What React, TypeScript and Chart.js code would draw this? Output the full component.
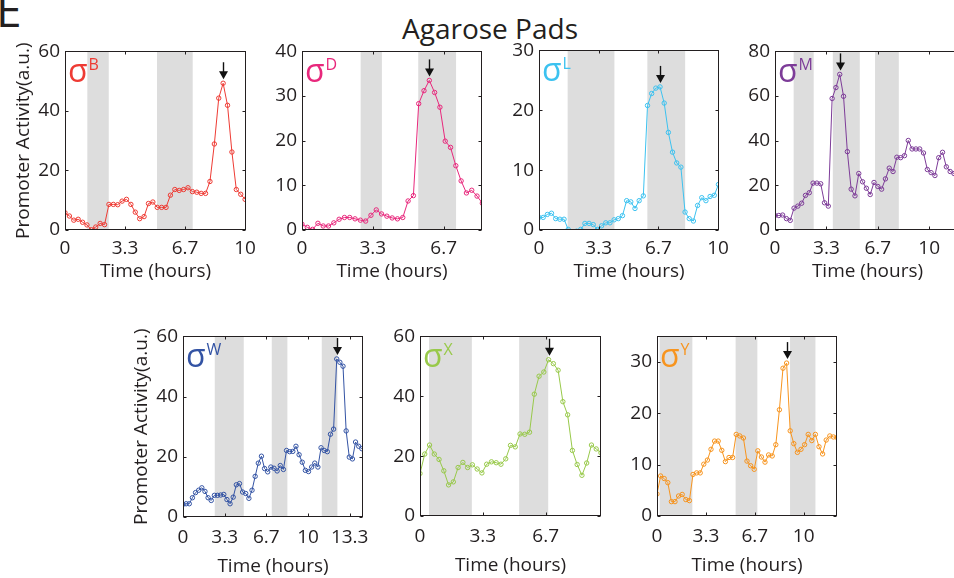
import React, { useEffect, useRef } from 'react';
import { Chart, registerables } from 'chart.js';

Chart.register(...registerables);

const FONT_FAMILY = '"Open Sans", "Noto Sans", sans-serif';
const TEXT_COLOR = '#231f20';
const SHADE_COLOR = '#dddddd';

// shared axis ticks (hours)
const X_TICK_HOURS = [0, 10 / 3, 20 / 3, 10, 40 / 3];
const X_TICK_LABELS = ['0', '3.3', '6.7', '10', '13.3'];

// σB
const SIGB_VALUES = [5.8, 4.7, 3.3, 3.6, 2.6, 1.7, 0.1, 1.0, 2.2, 1.8, 8.6, 8.6, 8.5, 9.7, 10.3, 8.6, 6.0, 3.8, 4.5, 8.9, 9.4, 7.6, 7.6, 7.6, 11.7, 13.6, 13.3, 13.6, 14.2, 12.9, 12.7, 12.3, 12.3, 16.3, 28.9, 44.3, 49.3, 41.9, 26.2, 13.6, 12.0, 10.3];
const SIGB_STEP_HOURS = 0.2439;
const SIGB_SHADES = [[1.24, 2.43], [5.11, 7.09]];
const SIGB_Y_TICKS = [0, 20, 40, 60];

// σD
const SIGD_VALUES = [1.3, 0.6, 0.15, 1.5, 0.9, 0.9, 1.6, 2.4, 2.8, 2.8, 2.5, 2.2, 2.0, 3.3, 4.5, 3.6, 3.1, 2.7, 2.5, 2.8, 6.5, 7.7, 28.3, 31.2, 33.5, 30.8, 27.5, 19.9, 18.5, 14.4, 11.0, 8.3, 8.9, 7.6, 6.0];
const SIGD_STEP_HOURS = 0.2496;
const SIGD_SHADES = [[2.76, 3.76], [5.47, 7.25]];
const SIGD_Y_TICKS = [0, 10, 20, 30, 40];

// σL
const SIGL_VALUES = [2.1, 2.1, 2.6, 2.8, 1.9, 1.8, 1.8, 0.1, -0.3, -0.2, 0.1, 1.1, 1.1, 0.9, 0.1, 0.7, 1.2, 1.2, 1.7, 1.9, 2.4, 4.9, 4.7, 3.6, 4.9, 5.7, 20.8, 22.8, 23.7, 23.9, 21.2, 16.3, 13.0, 11.2, 10.5, 3.0, 1.9, 1.5, 4.1, 5.4, 4.9, 5.6, 5.8, 7.6];
const SIGL_STEP_HOURS = 0.2330;
const SIGL_SHADES = [[1.6, 4.21], [6.05, 8.16]];
const SIGL_Y_TICKS = [0, 10, 20, 30];

// σM
const SIGM_VALUES = [6.5, 6.5, 6.7, 5.1, 4.3, 9.8, 10.7, 12.0, 15.5, 16.7, 21.0, 21.0, 20.7, 12.2, 10.7, 58.9, 63.8, 69.7, 59.9, 35.1, 18.3, 15.3, 25.3, 21.6, 18.7, 15.9, 21.3, 19.5, 18.3, 22.9, 27.7, 26.2, 32.6, 32.4, 33.3, 40.1, 36.3, 36.3, 36.3, 34.5, 27.1, 25.7, 24.4, 32.4, 34.8, 28.3, 26.2, 25.3];
const SIGM_STEP_HOURS = 0.247;
const SIGM_SHADES = [[1.21, 2.51], [3.75, 5.5], [6.49, 8.03]];
const SIGM_Y_TICKS = [0, 20, 40, 60, 80];

// σW
const SIGW_VALUES = [4.2, 4.4, 4.4, 6.4, 8.1, 8.9, 9.7, 8.5, 6.4, 5.5, 7.2, 7.2, 7.3, 7.5, 5.8, 4.4, 6.6, 10.7, 11.1, 8.3, 7.8, 6.2, 8.9, 13.5, 17.9, 20.2, 16.1, 15.0, 16.6, 16.2, 15.3, 17.1, 15.8, 22.1, 21.7, 21.8, 23.5, 20.7, 18.2, 15.5, 15.1, 16.6, 17.9, 16.6, 23.0, 22.1, 21.7, 27.5, 29.2, 52.5, 51.4, 50.1, 28.6, 19.9, 19.3, 24.9, 23.5, 22.7];
const SIGW_STEP_HOURS = 0.251;
const SIGW_SHADES = [[2.54, 4.86], [7.1, 8.35], [11.1, 12.35]];
const SIGW_Y_TICKS = [0, 20, 40, 60];

// σX
const SIGX_VALUES = [14.2, 20.7, 23.7, 20.7, 18.9, 15.1, 10.4, 11.4, 16.2, 17.9, 16.2, 17.1, 15.7, 14.4, 17.3, 18.1, 17.8, 17.3, 19.1, 23.6, 23.1, 27.4, 27.3, 28.0, 40.7, 46.7, 48.1, 52.2, 50.9, 48.7, 38.2, 33.8, 21.9, 17.2, 13.6, 17.7, 23.7, 22.4, 21.1];
const SIGX_STEP_HOURS = 0.2526;
const SIGX_SHADES = [[0.48, 2.75], [5.26, 6.8]];
const SIGX_Y_TICKS = [0, 20, 40, 60];

// σY
const SIGY_VALUES = [4.3, 7.8, 7.3, 6.5, 2.8, 2.8, 3.9, 4.2, 3.2, 3.0, 8.1, 8.4, 8.4, 10.1, 10.9, 13.0, 14.6, 14.6, 12.8, 10.6, 11.4, 11.4, 15.9, 15.6, 15.2, 10.7, 9.8, 9.1, 12.7, 11.5, 10.5, 11.9, 11.7, 13.9, 20.7, 28.8, 29.8, 16.6, 14.1, 12.4, 13.0, 13.9, 15.9, 14.7, 15.9, 13.5, 12.1, 14.8, 15.6, 15.4, 15.3];
const SIGY_STEP_HOURS = 0.2454;
const SIGY_SHADES = [[0.18, 2.41], [5.36, 6.84], [9.07, 10.8]];
const SIGY_Y_TICKS = [0, 10, 20, 30];

const Y_TITLE = 'Promoter Activity(a.u.)';
const X_TITLE = 'Time (hours)';

type Panel = {
  letter: string; color: string; values: number[]; step: number; shades: number[][];
  xMax: number; yMax: number; yTicks: number[]; yTitle: boolean;
  box: { l: number; t: number; r: number; b: number }; xAxisH: number; tickPad: number;
};

const PANELS: Panel[] = [
  { letter: 'B', color: '#ee3b34', values: SIGB_VALUES, step: SIGB_STEP_HOURS, shades: SIGB_SHADES, xMax: 10.05, yMax: 60, yTicks: SIGB_Y_TICKS, yTitle: true, box: { l: 65, t: 51, r: 246, b: 230 }, xAxisH: 53, tickPad: 7 },
  { letter: 'D', color: '#e8287c', values: SIGD_VALUES, step: SIGD_STEP_HOURS, shades: SIGD_SHADES, xMax: 8.47, yMax: 40, yTicks: SIGD_Y_TICKS, yTitle: false, box: { l: 302, t: 51, r: 482, b: 230 }, xAxisH: 53, tickPad: 7 },
  { letter: 'L', color: '#3cc2f0', values: SIGL_VALUES, step: SIGL_STEP_HOURS, shades: SIGL_SHADES, xMax: 10.05, yMax: 30, yTicks: SIGL_Y_TICKS, yTitle: false, box: { l: 539, t: 50, r: 719, b: 230 }, xAxisH: 53, tickPad: 7 },
  { letter: 'M', color: '#7d3c98', values: SIGM_VALUES, step: SIGM_STEP_HOURS, shades: SIGM_SHADES, xMax: 12, yMax: 80, yTicks: SIGM_Y_TICKS, yTitle: false, box: { l: 775, t: 51, r: 960, b: 230 }, xAxisH: 53, tickPad: 7 },
  { letter: 'W', color: '#3353a4', values: SIGW_VALUES, step: SIGW_STEP_HOURS, shades: SIGW_SHADES, xMax: 14.4, yMax: 60, yTicks: SIGW_Y_TICKS, yTitle: true, box: { l: 183, t: 336, r: 363, b: 517 }, xAxisH: 61, tickPad: 9 },
  { letter: 'X', color: '#98c94a', values: SIGX_VALUES, step: SIGX_STEP_HOURS, shades: SIGX_SHADES, xMax: 9.6, yMax: 60, yTicks: SIGX_Y_TICKS, yTitle: false, box: { l: 420, t: 336, r: 601, b: 516 }, xAxisH: 61, tickPad: 9 },
  { letter: 'Y', color: '#f7941e', values: SIGY_VALUES, step: SIGY_STEP_HOURS, shades: SIGY_SHADES, xMax: 12.27, yMax: 35, yTicks: SIGY_Y_TICKS, yTitle: false, box: { l: 657, t: 336, r: 837, b: 516 }, xAxisH: 61, tickPad: 9 },
];

const Y_AXIS_W = 53;
const PAD_TOP = 16;
const PAD_RIGHT = 22;
const FONT_SIZE = 19;

const decorPlugin = {
  id: 'panelDecor',
  beforeDatasetsDraw(chart: any, _args: any, opts: any) {
    const { ctx, chartArea: a } = chart;
    const x = chart.scales.x;
    ctx.save();
    ctx.fillStyle = SHADE_COLOR;
    for (const [s, e] of opts.shades) {
      const x0 = Math.max(a.left, x.getPixelForValue(s));
      const x1 = Math.min(a.right, x.getPixelForValue(e));
      ctx.fillRect(x0, a.top, x1 - x0, a.bottom - a.top);
    }
    ctx.restore();
  },
  afterDatasetsDraw(chart: any, _args: any, opts: any) {
    const { ctx, chartArea: a } = chart;
    const x = chart.scales.x;
    const y = chart.scales.y;
    ctx.save();
    ctx.strokeStyle = TEXT_COLOR;
    ctx.lineWidth = 1;
    const L = Math.round(a.left) + 0.5, T = Math.round(a.top) + 0.5;
    const R = Math.round(a.right) - 0.5, B = Math.round(a.bottom) - 0.5;
    ctx.strokeRect(L, T, R - L, B - T);
    const tl = 3;
    ctx.beginPath();
    for (const t of x.ticks) {
      const px = Math.round(x.getPixelForValue(t.value)) + 0.5;
      ctx.moveTo(px, B); ctx.lineTo(px, B - tl);
      ctx.moveTo(px, T); ctx.lineTo(px, T + tl);
    }
    for (const t of y.ticks) {
      const py = Math.round(y.getPixelForValue(t.value)) + 0.5;
      ctx.moveTo(L, py); ctx.lineTo(L + tl, py);
      ctx.moveTo(R, py); ctx.lineTo(R - tl, py);
    }
    ctx.stroke();

    // sigma label
    ctx.fillStyle = opts.color;
    ctx.textAlign = 'left';
    ctx.textBaseline = 'alphabetic';
    ctx.font = `32px ${FONT_FAMILY}`;
    ctx.fillText('σ', a.left + 3, a.top + 31);
    const w = ctx.measureText('σ').width;
    ctx.font = `16px ${FONT_FAMILY}`;
    ctx.fillText(opts.letter, a.left + 3 + w + 1, a.top + 19);

    // arrow above the peak
    const data = chart.data.datasets[0].data;
    let pi = 0;
    data.forEach((d: any, i: number) => { if (d.y > data[pi].y) pi = i; });
    const pt = chart.getDatasetMeta(0).data[pi];
    const px = Math.round(pt.x) + 0.5;
    const tip = pt.y - 4;
    ctx.strokeStyle = '#111';
    ctx.fillStyle = '#111';
    ctx.lineWidth = 1.4;
    ctx.beginPath();
    ctx.moveTo(px, tip - 17);
    ctx.lineTo(px, tip - 5);
    ctx.stroke();
    ctx.beginPath();
    ctx.moveTo(px - 4.5, tip - 8);
    ctx.lineTo(px + 4.5, tip - 8);
    ctx.lineTo(px, tip);
    ctx.closePath();
    ctx.fill();
    ctx.restore();
  },
};

function PanelChart({ p }: { p: Panel }) {
  const ref = useRef<HTMLCanvasElement | null>(null);
  const width = p.box.r - p.box.l + Y_AXIS_W + PAD_RIGHT;
  const height = PAD_TOP + (p.box.b - p.box.t) + p.xAxisH;

  useEffect(() => {
    if (!ref.current) return;
    const points = p.values.map((v, i) => ({ x: i * p.step, y: v }));
    const chart = new Chart(ref.current, {
      type: 'line',
      data: {
        datasets: [{
          data: points,
          borderColor: p.color,
          borderWidth: 1,
          pointRadius: 2.2,
          pointBorderWidth: 1,
          pointBorderColor: p.color,
          pointBackgroundColor: 'rgba(0,0,0,0)',
          tension: 0,
        }],
      },
      options: {
        animation: false,
        responsive: false,
        devicePixelRatio: 1,
        events: [],
        layout: { padding: { top: PAD_TOP, right: PAD_RIGHT, left: 0, bottom: 0 } },
        plugins: {
          legend: { display: false },
          tooltip: { enabled: false },
          panelDecor: { shades: p.shades, color: p.color, letter: p.letter },
        } as any,
        scales: {
          x: {
            type: 'linear',
            min: 0,
            max: p.xMax,
            grid: { display: false, drawTicks: false },
            border: { display: false },
            afterFit: (s: any) => { s.height = p.xAxisH; },
            afterBuildTicks: (s: any) => {
              s.ticks = X_TICK_HOURS.filter((v) => v <= p.xMax + 1e-6).map((v) => ({ value: v }));
            },
            ticks: {
              autoSkip: false,
              maxRotation: 0,
              padding: p.tickPad,
              color: TEXT_COLOR,
              font: { family: FONT_FAMILY, size: FONT_SIZE },
              callback: (v: any) => {
                const i = X_TICK_HOURS.findIndex((h) => Math.abs(h - v) < 1e-6);
                return i >= 0 ? X_TICK_LABELS[i] : '';
              },
            },
            title: {
              display: true,
              text: X_TITLE,
              color: TEXT_COLOR,
              padding: 0,
              font: { family: FONT_FAMILY, size: FONT_SIZE },
            },
          },
          y: {
            type: 'linear',
            min: 0,
            max: p.yMax,
            grid: { display: false, drawTicks: false },
            border: { display: false },
            afterFit: (s: any) => { s.width = Y_AXIS_W; },
            afterBuildTicks: (s: any) => { s.ticks = p.yTicks.map((v) => ({ value: v })); },
            ticks: {
              padding: 5,
              color: TEXT_COLOR,
              font: { family: FONT_FAMILY, size: FONT_SIZE },
            },
            title: {
              display: p.yTitle,
              text: Y_TITLE,
              color: TEXT_COLOR,
              padding: 0,
              font: { family: FONT_FAMILY, size: FONT_SIZE },
            },
          },
        },
      } as any,
      plugins: [decorPlugin as any],
    });
    return () => chart.destroy();
  }, [p]);

  return (
    <canvas
      ref={ref}
      width={width}
      height={height}
      style={{
        position: 'absolute',
        left: p.box.l - Y_AXIS_W,
        top: p.box.t - PAD_TOP,
        width,
        height,
      }}
    />
  );
}

export default function App() {
  return (
    <div
      style={{
        position: 'fixed', left: 0, top: 0, width: 954, height: 578,
        overflow: 'hidden', background: '#fff', fontFamily: FONT_FAMILY, color: TEXT_COLOR,
      }}
    >
      <div style={{ position: 'absolute', left: -4, top: -14, fontSize: 46, lineHeight: '46px' }}>E</div>
      <div style={{ position: 'absolute', left: 340, width: 300, top: 12, textAlign: 'center', fontSize: 28, lineHeight: '32px' }}>
        Agarose Pads
      </div>
      {PANELS.map((p) => (
        <PanelChart key={p.letter} p={p} />
      ))}
    </div>
  );
}
